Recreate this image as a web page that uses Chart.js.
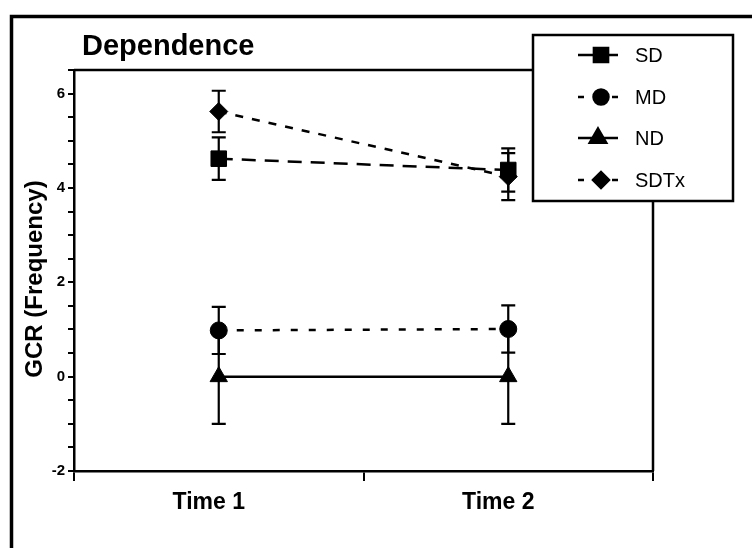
<!DOCTYPE html>
<html>
<head>
<meta charset="utf-8">
<script src="https://cdn.jsdelivr.net/npm/chart.js@4"></script>
<style>
  html, body { margin: 0; padding: 0; background: #fff; }
  #wrap { position: relative; width: 752px; height: 548px; }
</style>
</head>
<body>
<div id="wrap"><canvas id="c" width="752" height="548"></canvas></div>
<script>
// ---- data ----
const categories = ['Time 1', 'Time 2'];
const seriesNames = ['SD', 'MD', 'ND', 'SDTx'];
const sdMean   = [4.62, 4.38];
const sdErr    = [0.45, 0.46];
const mdMean   = [0.98, 1.01];
const mdErr    = [0.50, 0.50];
const ndMean   = [0.00, 0.00];
const ndErr    = [1.00, 1.00];
const sdtxMean = [5.62, 4.24];
const sdtxErr  = [0.44, 0.50];
const yMin = -2, yMax = 6.5, yStep = 0.5;
const chartTitle = 'Dependence';
const yTitle = 'GCR (Frequency)';

const FONT = "'Liberation Sans', Arial, sans-serif";
const errors = [sdErr, mdErr, ndErr, sdtxErr];

const styles = [
  { pointStyle: 'rect',     radius: 11,  dash: [14, 9], legRadius: 10,  legLine: 'solid' },
  { pointStyle: 'circle',   radius: 8.5, dash: [7, 11], legRadius: 7.5, legLine: 'dash'  },
  { pointStyle: 'triangle', radius: 10,  dash: [],      legRadius: 9.5, legLine: 'solid' },
  { pointStyle: 'rectRot',  radius: 9,   dash: [8, 9],  legRadius: 8,   legLine: 'dash'  }
];
const means = [sdMean, mdMean, ndMean, sdtxMean];

const datasets = seriesNames.map((name, i) => ({
  label: name,
  data: means[i],
  borderColor: '#000',
  backgroundColor: '#000',
  borderWidth: 2.5,
  borderDash: styles[i].dash,
  pointStyle: styles[i].pointStyle,
  pointRadius: styles[i].radius,
  pointHoverRadius: styles[i].radius,
  pointBackgroundColor: '#000',
  pointBorderColor: '#000',
  pointBorderWidth: 1,
  fill: false,
  tension: 0
}));

const decorPlugin = {
  id: 'decor',
  beforeDraw(chart) {
    const ctx = chart.ctx;
    ctx.save();
    ctx.fillStyle = '#fff';
    ctx.fillRect(0, 0, chart.width, chart.height);
    ctx.restore();
  },
  beforeDatasetsDraw(chart) {
    const ctx = chart.ctx;
    const a = chart.chartArea;
    const ys = chart.scales.y;
    ctx.save();
    // plot box top & right
    ctx.strokeStyle = '#000';
    ctx.lineWidth = 2.5;
    ctx.beginPath();
    ctx.moveTo(a.left, a.top);
    ctx.lineTo(a.right, a.top);
    ctx.lineTo(a.right, a.bottom);
    ctx.stroke();
    // error bars
    ctx.lineWidth = 2.2;
    chart.data.datasets.forEach((ds, i) => {
      const meta = chart.getDatasetMeta(i);
      meta.data.forEach((pt, j) => {
        const m = ds.data[j], e = errors[i][j];
        const yHi = ys.getPixelForValue(m + e);
        const yLo = ys.getPixelForValue(m - e);
        const x = pt.x;
        ctx.beginPath();
        ctx.moveTo(x, yHi); ctx.lineTo(x, yLo);
        ctx.moveTo(x - 7, yHi); ctx.lineTo(x + 7, yHi);
        ctx.moveTo(x - 7, yLo); ctx.lineTo(x + 7, yLo);
        ctx.stroke();
      });
    });
    ctx.restore();
  },
  afterDraw(chart) {
    const ctx = chart.ctx;
    ctx.save();
    // outer frame
    ctx.strokeStyle = '#000';
    ctx.lineWidth = 3.5;
    ctx.beginPath();
    ctx.moveTo(11.5, chart.height + 5);
    ctx.lineTo(11.5, 16.5);
    ctx.lineTo(chart.width + 5, 16.5);
    ctx.stroke();
    // title
    ctx.fillStyle = '#000';
    ctx.font = 'bold 29px ' + FONT;
    ctx.textAlign = 'left';
    ctx.textBaseline = 'alphabetic';
    ctx.fillText(chartTitle, 82, 55);
    // y axis title
    ctx.save();
    ctx.translate(35, 279);
    ctx.rotate(-Math.PI / 2);
    ctx.font = 'bold 24px ' + FONT;
    ctx.textAlign = 'center';
    ctx.textBaseline = 'middle';
    ctx.fillText(yTitle, 0, 0);
    ctx.restore();
    // legend box
    const L = 533, T = 35, R = 733, B = 201;
    ctx.fillStyle = '#fff';
    ctx.fillRect(L, T, R - L, B - T);
    ctx.lineWidth = 2.5;
    ctx.strokeRect(L, T, R - L, B - T);
    const rowY = [55, 97, 138, 180];
    const cx = 600;
    seriesNames.forEach((name, i) => {
      const y = rowY[i];
      ctx.strokeStyle = '#000';
      ctx.lineWidth = 2.5;
      ctx.setLineDash([]);
      ctx.beginPath();
      if (styles[i].legLine === 'solid') {
        ctx.moveTo(578, y); ctx.lineTo(618, y);
      } else {
        ctx.moveTo(578, y); ctx.lineTo(584, y);
        ctx.moveTo(612, y); ctx.lineTo(618, y);
      }
      ctx.stroke();
      ctx.fillStyle = '#000';
      Chart.helpers.drawPoint(ctx, {
        pointStyle: styles[i].pointStyle,
        radius: styles[i].legRadius,
        rotation: 0,
        borderWidth: 1
      }, cx + (i === 2 ? -2 : 1), y);
      ctx.fillStyle = '#000';
      ctx.font = '20px ' + FONT;
      ctx.textAlign = 'left';
      ctx.textBaseline = 'middle';
      ctx.fillText(name, 635, y + 1);
    });
    ctx.restore();
  }
};

new Chart(document.getElementById('c'), {
  type: 'line',
  data: { labels: categories, datasets },
  options: {
    responsive: false,
    animation: false,
    devicePixelRatio: 1,
    layout: { padding: { left: 0, right: 99, top: 70, bottom: 0 } },
    plugins: {
      legend: { display: false },
      title: { display: false },
      tooltip: { enabled: false }
    },
    scales: {
      x: {
        type: 'category',
        offset: true,
        afterFit: s => { s.height = 77; },
        border: { display: true, color: '#000', width: 2.5 },
        grid: { offset: true, drawOnChartArea: false, drawTicks: true, tickLength: 10, color: '#000', lineWidth: 2 },
        ticks: { color: '#000', font: { family: FONT, size: 23, weight: 'bold' }, padding: 8, labelOffset: -10, maxRotation: 0 }
      },
      y: {
        type: 'linear',
        min: yMin, max: yMax,
        afterFit: s => { s.width = 74; },
        border: { display: true, color: '#000', width: 2.5 },
        grid: { drawOnChartArea: false, drawTicks: true, tickLength: 6, color: '#000', lineWidth: 2 },
        ticks: {
          stepSize: yStep, autoSkip: false, color: '#000', padding: 3,
          font: { family: FONT, size: 15, weight: 'bold' },
          callback: v => (Math.abs(v % 2) < 1e-9 ? String(v) : '')
        },
        title: { display: false }
      }
    }
  },
  plugins: [decorPlugin]
});
</script>
</body>
</html>
